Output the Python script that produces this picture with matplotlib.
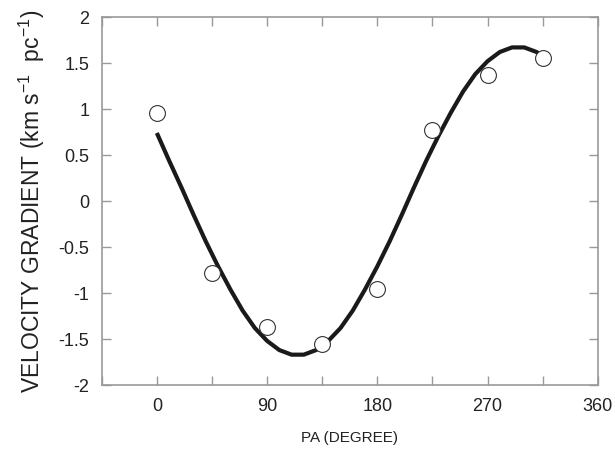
import matplotlib
matplotlib.use('Agg')
import matplotlib.pyplot as plt

# observed points
pa_obs = [0, 45, 90, 135, 180, 225, 270, 315]
grad_obs = [0.96, -0.78, -1.37, -1.55, -0.96, 0.77, 1.37, 1.55]

# fitted curve
pa_fit = [0, 10, 20, 30, 40, 50, 60, 70, 80, 90, 100, 110, 120, 130, 140,
          150, 160, 170, 180, 190, 200, 210, 220, 230, 240, 250, 260, 270,
          280, 290, 300, 310, 315]
grad_fit = [0.74, 0.44, 0.15, -0.15, -0.44, -0.71, -0.96, -1.19, -1.38,
            -1.52, -1.62, -1.67, -1.67, -1.62, -1.52, -1.38, -1.19, -0.96,
            -0.71, -0.44, -0.15, 0.15, 0.44, 0.71, 0.96, 1.19, 1.38, 1.52,
            1.62, 1.67, 1.67, 1.62, 1.58]

xticks = [0, 90, 180, 270, 360]
yticks = [-2, -1.5, -1, -0.5, 0, 0.5, 1, 1.5, 2]
ytick_labels = ['-2', '-1.5', '-1', '-0.5', '0', '0.5', '1', '1.5', '2']

plt.rcParams['font.family'] = ['Liberation Sans', 'DejaVu Sans']

fig = plt.figure(figsize=(6.15, 4.49), dpi=100)
ax = fig.add_axes([0.1654, 0.1425, 0.8066, 0.8195])

ax.plot(pa_fit, grad_fit, color='#1a1a1a', linewidth=3, zorder=2,
        solid_capstyle='butt', solid_joinstyle='round')
ax.scatter(pa_obs, grad_obs, s=130, facecolor='white', edgecolor='#333333',
           linewidth=0.8, zorder=3)

ax.set_xlim(-45, 360)
ax.set_ylim(-2, 2)
ax.set_xticks(xticks)
ax.set_xticks(range(-45, 361, 45), minor=True)
ax.set_yticks(yticks)
ax.set_yticklabels(ytick_labels)

for s in ax.spines.values():
    s.set_color('#999999')
    s.set_linewidth(1.2)

ax.tick_params(which='both', direction='in', top=True, right=True,
               length=6.5, width=1, color='#999999', labelsize=13,
               labelcolor='#222222')
ax.tick_params(axis='x', which='major', pad=9)
ax.tick_params(axis='y', which='major', pad=9)

ax.set_xlabel('PA (DEGREE)', fontsize=11, color='#222222', labelpad=12)
ax.set_ylabel(r'VELOCITY GRADIENT (km s$^{\mathregular{-1}}$  pc$^{\mathregular{-1}}$)',
              fontsize=16.5, color='#222222', labelpad=8)

fig.savefig('out.png', dpi=100)
